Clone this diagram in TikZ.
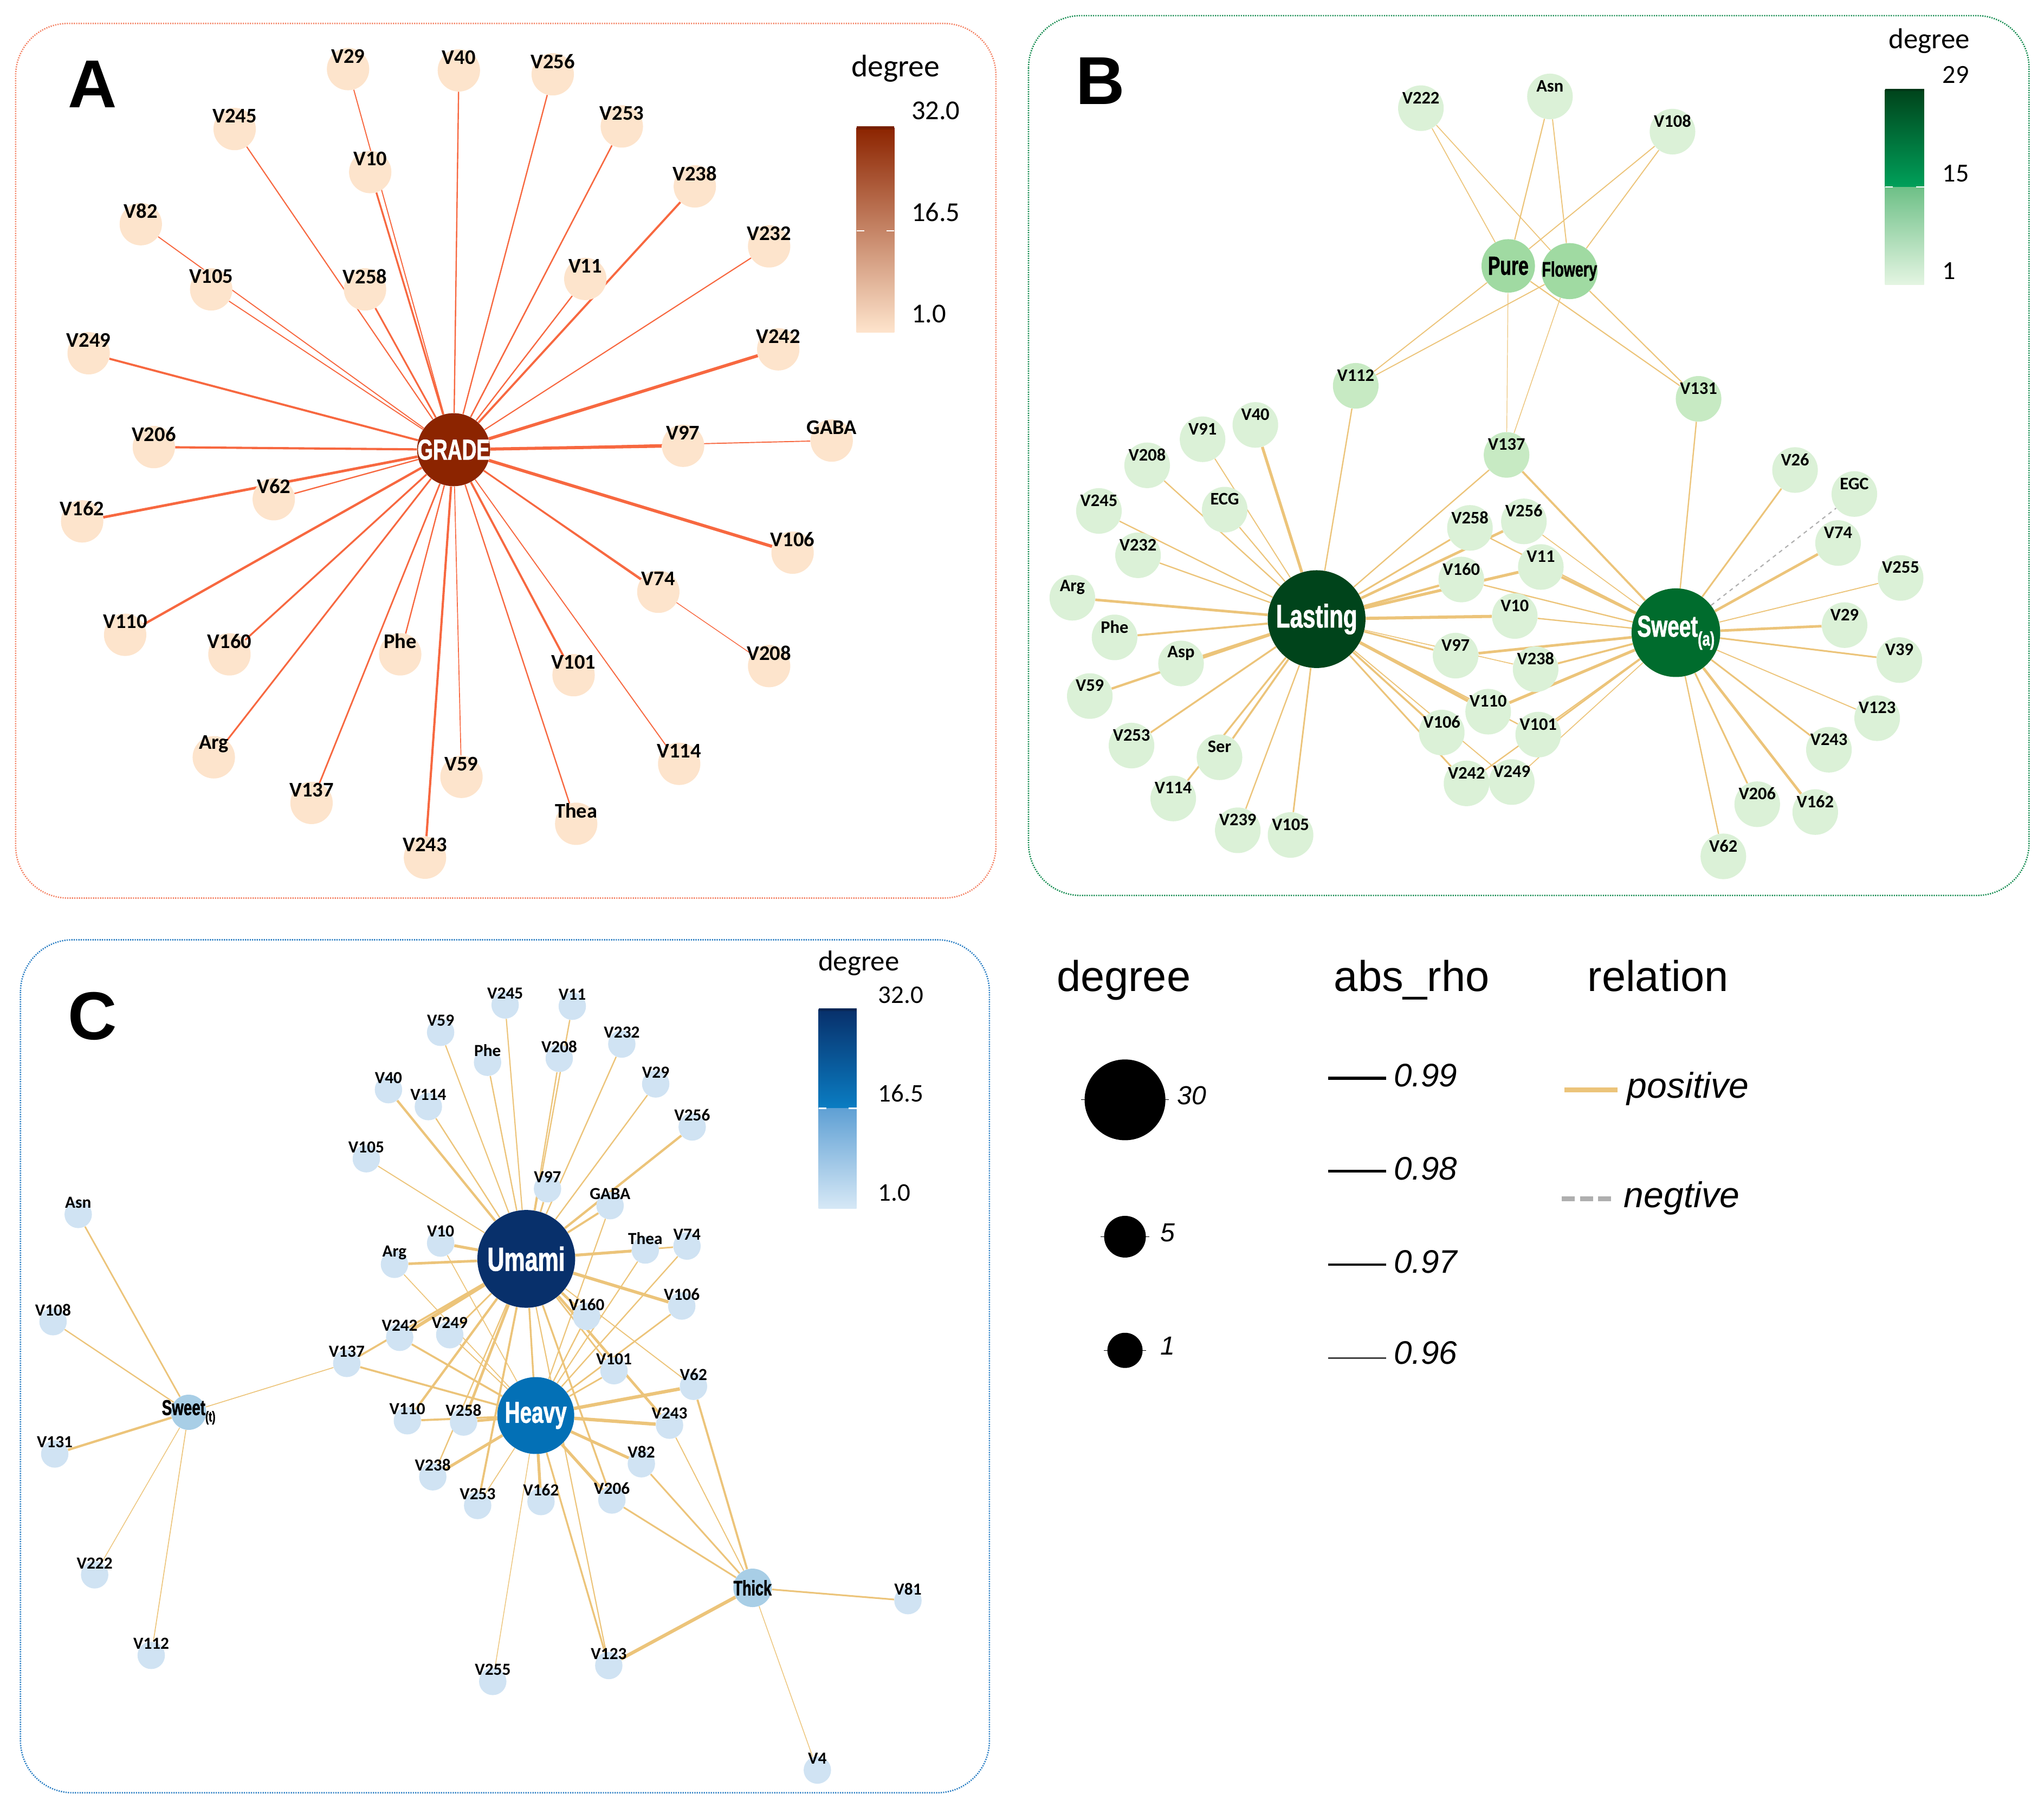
\documentclass[tikz,border=0pt]{standalone}
\usepackage{fontspec}
\setmainfont{Carlito}
\newfontfamily\condf{Liberation Sans}[FakeStretch=0.7,BoldFeatures={FakeBold=1.3}]
\newfontfamily\arialf{Liberation Sans}
\pgfdeclarelayer{edgelayer}
\pgfsetlayers{edgelayer,main}
\definecolor{aedge}{RGB}{247,104,64}
\definecolor{anode}{RGB}{253,228,204}
\definecolor{ahub}{RGB}{140,36,0}
\definecolor{aframe}{RGB}{244,130,100}
\definecolor{pedge}{RGB}{236,196,122}
\definecolor{bnode}{RGB}{219,241,215}
\definecolor{bnodeb}{RGB}{199,234,195}
\definecolor{bmid}{RGB}{160,218,162}
\definecolor{bdark}{RGB}{0,68,27}
\definecolor{bsweet}{RGB}{0,108,45}
\definecolor{bframe}{RGB}{20,140,80}
\definecolor{cnode}{RGB}{208,227,243}
\definecolor{cmid}{RGB}{168,206,230}
\definecolor{cheavy}{RGB}{3,112,182}
\definecolor{cumami}{RGB}{8,48,107}
\definecolor{cframe}{RGB}{40,125,195}
\definecolor{negc}{RGB}{175,175,175}
\tikzset{
  anodest/.style={circle,fill=anode,inner sep=0pt,minimum size=32.5pt},
  alab/.style={font=\bfseries\fontsize{16}{16}\selectfont,yshift=10pt,inner sep=0pt},
  bnodest/.style={circle,fill=bnode,inner sep=0pt,minimum size=35pt},
  blab/.style={font=\bfseries\fontsize{13.5}{13.5}\selectfont,yshift=8pt,inner sep=0pt},
  cnodest/.style={circle,fill=cnode,inner sep=0pt,minimum size=21pt},
  clab/.style={font=\bfseries\fontsize{13}{13}\selectfont,yshift=9pt,inner sep=0pt},
  aedgest/.style={draw=aedge},
  pedgest/.style={draw=pedge},
  negedge/.style={draw=negc,dashed,line width=0.9pt},
  hubw/.style={text=white,font=\condf\bfseries\fontsize{#1}{#1}\selectfont,inner sep=0pt},
  hubk/.style={text=black,font=\condf\bfseries\fontsize{#1}{#1}\selectfont,inner sep=0pt},
  framest/.style={line width=1.1pt,dash pattern=on 0.9pt off 0.9pt,rounded corners=40pt},
  cbtext/.style={font=\fontsize{#1}{#1}\selectfont,anchor=west,inner sep=0pt},
  cbtitle/.style={font=\fontsize{#1}{#1}\selectfont,anchor=base,inner sep=0pt},
  lgtitle/.style={font=\arialf\fontsize{33}{33}\selectfont,anchor=base,inner sep=0pt},
  lgval/.style={font=\arialf\itshape\fontsize{#1}{#1}\selectfont,anchor=base west,inner sep=0pt},
  letterst/.style={font=\arialf\bfseries\fontsize{52}{52}\selectfont,inner sep=0pt},
  lgdot/.style={circle,fill=black,inner sep=0pt,minimum size=#1},
}
\newcommand\An[2]{\node[anodest,label={[alab]center:#1}] (a#1) at (#2) {};}
\newcommand\Bn[2]{\node[bnodest,label={[blab]center:#1}] (b#1) at (#2) {};}
\newcommand\Bnn[2]{\node[bnodest,fill=bnodeb,label={[blab]center:#1}] (b#1) at (#2) {};}
\newcommand\Cn[2]{\node[cnodest,label={[clab]center:#1}] (c#1) at (#2) {};}
\begin{document}
\begin{tikzpicture}[x=1pt,y=-1pt]
\useasboundingbox (0,0) rectangle (1568,1386);
% frames
\draw[framest,draw=aframe] (12,18) rectangle (764,689);
\draw[framest,draw=bframe] (789,12) rectangle (1556.5,687);
\draw[framest,draw=cframe] (15.7,721) rectangle (759,1375.4);
% letters
\node[letterst] (letA) at (71,64.5) {A};
\node[letterst] (letB) at (844,62) {B};
\node[letterst] (letC) at (71,779.6) {C};

% ================= Panel A =================
\node[circle,fill=ahub,inner sep=0pt,minimum size=56pt,label={[hubw=22]center:GRADE}] (aGRADE) at (348,345) {};
\An{V29}{267,53}
\An{V40}{352,54}
\An{V256}{424,57}
\An{V245}{180,99}
\An{V253}{477,97}
\An{V10}{284,132}
\An{V238}{533,143}
\An{V82}{108,172}
\An{V232}{590,189}
\An{V105}{162,222}
\An{V258}{280,222}
\An{V11}{449,214}
\An{V249}{68,271}
\An{V242}{597,268}
\An{V206}{118,343}
\An{V97}{524,342}
\An{GABA}{638,338}
\An{V62}{210,383}
\An{V162}{63,400}
\An{V106}{608,424}
\An{V74}{505,454}
\An{V110}{96,487}
\An{V160}{176,502}
\An{Phe}{307,502}
\An{V101}{440,518}
\An{V208}{590,511}
\An{Arg}{164,581}
\An{V114}{521,586}
\An{V59}{354,596}
\An{V137}{239,616}
\An{Thea}{442,632}
\An{V243}{326,658}
% colorbar A
\shade[top color=ahub,middle color={rgb,255:red,222;green,140;blue,105},bottom color={rgb,255:red,254;green,228;blue,204}] (657,98) rectangle (686,255);
\fill[ahub!85!black] (657,97) rectangle (686,99.5);
\draw[white,line width=1pt] (657,177) -- (663,177) (680,177) -- (686,177);
\node[cbtitle=24] (aDeg) at (687,59) {degree};
\node[cbtext=21] (aT1) at (699,85) {32.0};
\node[cbtext=21] (aT2) at (699,163) {16.5};
\node[cbtext=21] (aT3) at (699,241) {1.0};

% ================= Panel B =================
\node[circle,fill=bdark,inner sep=0pt,minimum size=75pt,label={[hubw=25]center:Lasting}] (bLasting) at (1010,475) {};
\node[circle,fill=bsweet,inner sep=0pt,minimum size=68pt,label={[hubw=23]center:{Sweet\raisebox{-0.3em}{\fontsize{15}{15}\selectfont(a)}}}] (bSweet) at (1285.6,485.4) {};
\node[circle,fill=bmid,inner sep=0pt,minimum size=41pt,label={[hubk=20]center:Pure}] (bPure) at (1157,204) {};
\node[circle,fill=bmid,inner sep=0pt,minimum size=43pt,label={[hubk=16]center:Flowery}] (bFlowery) at (1204,208) {};
\Bn{V222}{1090,83}
\Bn{Asn}{1189,74}
\Bn{V108}{1283,101}
\Bnn{V112}{1040,296}
\Bnn{V131}{1303,306}
\Bn{V40}{963,326}
\Bn{V91}{922.5,337}
\Bnn{V137}{1155.7,349}
\Bn{V208}{880,357}
\Bn{V26}{1377,360.6}
\Bn{EGC}{1422.5,379}
\Bn{V245}{843,392}
\Bn{ECG}{939.5,391}
\Bn{V258}{1127.6,405}
\Bn{V256}{1169,400}
\Bn{V74}{1410,416.6}
\Bn{V232}{873,426}
\Bn{V11}{1182,435}
\Bn{V255}{1458,443.4}
\Bn{V160}{1121,444.6}
\Bn{Arg}{822.6,458.6}
\Bn{V10}{1162,472.6}
\Bn{V29}{1415,479.6}
\Bn{Phe}{855,489}
\Bn{V97}{1116.6,503}
\Bn{V39}{1457,506.4}
\Bn{Asp}{906,509}
\Bn{V238}{1178,513.4}
\Bn{V59}{836,534}
\Bn{V110}{1141.6,546}
\Bn{V123}{1440,551}
\Bn{V106}{1106,562}
\Bn{V101}{1180,563.6}
\Bn{V253}{868,572}
\Bn{V243}{1403,575.2}
\Bn{Ser}{935.5,581}
\Bn{V242}{1125,601}
\Bn{V249}{1159.7,600}
\Bn{V114}{900,612.6}
\Bn{V206}{1348,617}
\Bn{V162}{1392.5,623}
\Bn{V239}{949.5,637}
\Bn{V105}{990,640.6}
\Bn{V62}{1322,657}
% colorbar B
\shade[top color=bdark,bottom color={rgb,255:red,0;green,160;blue,90}] (1446,68.7) rectangle (1476,143.5);
\shade[top color={rgb,255:red,110;green,192;blue,135},bottom color={rgb,255:red,228;green,245;blue,226}] (1446,143.5) rectangle (1476,218.5);
\fill[bdark!80!black] (1446,68) rectangle (1476,70);
\draw[white,line width=1pt] (1446,143.5) -- (1452,143.5) (1470,143.5) -- (1476,143.5);
\node[cbtitle=22] (bDeg) at (1480,37) {degree};
\node[cbtext=20] (bT1) at (1490,57.5) {29};
\node[cbtext=20] (bT2) at (1490,133) {15};
\node[cbtext=20] (bT3) at (1490,208) {1};

% ================= Panel C =================
\node[circle,fill=cumami,inner sep=0pt,minimum size=75pt,label={[hubw=25.5]center:Umami}] (cUmami) at (403.7,965.8) {};
\node[circle,fill=cheavy,inner sep=0pt,minimum size=59pt,label={[hubw=23]center:Heavy}] (cHeavy) at (411,1086) {};
\node[circle,fill=cmid,inner sep=0pt,minimum size=27pt,label={[hubk=16.5]center:{Sweet\raisebox{-0.3em}{\fontsize{11}{11}\selectfont(t)}}}] (cSweet) at (144.7,1083.5) {};
\node[circle,fill=cmid,inner sep=0pt,minimum size=29.5pt,label={[hubk=16]center:Thick}] (cThick) at (577.3,1218.2) {};
\Cn{V245}{387.5,771}
\Cn{V11}{439,772}
\Cn{V59}{338,792}
\Cn{V232}{477,801}
\Cn{Phe}{374,815}
\Cn{V208}{429,812}
\Cn{V29}{503,831.6}
\Cn{V40}{298,836}
\Cn{V114}{328.6,849}
\Cn{V256}{531,864.6}
\Cn{V105}{281,889}
\Cn{V97}{420,912}
\Cn{GABA}{468,925}
\Cn{Asn}{60,931.7}
\Cn{V10}{338,953.7}
\Cn{Arg}{302.6,970}
\Cn{Thea}{495,959}
\Cn{V74}{527,956}
\Cn{V106}{523,1002}
\Cn{V160}{450,1010}
\Cn{V108}{40.7,1014}
\Cn{V242}{306.6,1026}
\Cn{V249}{345,1024}
\Cn{V137}{266,1046}
\Cn{V101}{471,1051.6}
\Cn{V62}{532,1063.6}
\Cn{V110}{312.5,1090}
\Cn{V258}{355.6,1091}
\Cn{V243}{513.6,1093.4}
\Cn{V131}{42,1115.5}
\Cn{V82}{492,1123}
\Cn{V238}{332,1133}
\Cn{V162}{415,1152}
\Cn{V206}{469.4,1150.8}
\Cn{V253}{366.4,1155}
\Cn{V222}{72.6,1208.2}
\Cn{V81}{696.5,1228}
\Cn{V112}{116,1270}
\Cn{V123}{467,1277.8}
\Cn{V255}{378,1290}
\Cn{V4}{627,1358}
% colorbar C
\shade[top color=cumami,bottom color={rgb,255:red,10;green,125;blue,195}] (628,774.4) rectangle (657,850.3);
\shade[top color={rgb,255:red,95;green,160;blue,212},bottom color={rgb,255:red,214;green,232;blue,246}] (628,850.3) rectangle (657,927);
\fill[cumami!80!black] (628,773.6) rectangle (657,775.6);
\draw[white,line width=1pt] (628,850.3) -- (634,850.3) (651,850.3) -- (657,850.3);
\node[cbtitle=22] (cDeg) at (658.8,744.7) {degree};
\node[cbtext=19.5] (cT1) at (673.5,763.4) {32.0};
\node[cbtext=19.5] (cT2) at (673.5,839) {16.5};
\node[cbtext=19.5] (cT3) at (673.5,915) {1.0};

% ================= Legend =================
\node[lgtitle] (lgDeg) at (862,760.3) {degree};
\node[lgtitle] (lgRho) at (1083,760.3) {abs\_rho};
\node[lgtitle] (lgRel) at (1272,760.3) {relation};
\node[lgdot=62pt] (lc30) at (863,843.8) {};
\node[lgdot=32pt] (lc5) at (863,948.8) {};
\node[lgdot=27pt] (lc1) at (863,1036) {};
\draw[line width=0.5pt] ([xshift=-2.5pt]lc30.west) -- ([xshift=2.5pt]lc30.east);
\draw[line width=0.5pt] ([xshift=-2.5pt]lc5.west) -- ([xshift=2.5pt]lc5.east);
\draw[line width=0.5pt] ([xshift=-2.5pt]lc1.west) -- ([xshift=2.5pt]lc1.east);
\node[lgval=20] (lt30) at (903,847.4) {30};
\node[lgval=20] (lt5) at (890,952.4) {5};
\node[lgval=20] (lt1) at (890,1039.5) {1};
\coordinate (r99a) at (1019,827.1); \coordinate (r99b) at (1063.4,827.1);
\coordinate (r98a) at (1019,898.7); \coordinate (r98b) at (1063.4,898.7);
\coordinate (r97a) at (1019,970.3); \coordinate (r97b) at (1063.4,970.3);
\coordinate (r96a) at (1019,1041.9); \coordinate (r96b) at (1063.4,1041.9);
\draw[line width=2.6pt] (r99a) -- (r99b);
\draw[line width=2.1pt] (r98a) -- (r98b);
\draw[line width=1.7pt] (r97a) -- (r97b);
\draw[line width=1.1pt,black!75] (r96a) -- (r96b);
\node[lgval=25] (lv99) at (1069,833.6) {0.99};
\node[lgval=25] (lv98) at (1069,905.2) {0.98};
\node[lgval=25] (lv97) at (1069,976.7) {0.97};
\node[lgval=25] (lv96) at (1069,1046.7) {0.96};
\coordinate (rpa) at (1200,836.2); \coordinate (rpb) at (1240.8,836.2);
\coordinate (rna) at (1198,919.7); \coordinate (rnb) at (1239,919.7);
\draw[pedge,line width=3.5pt] (rpa) -- (rpb);
\draw[negc,line width=3.5pt,dash pattern=on 10pt off 4pt] (rna) -- (rnb);
\node[lgval=27.5] (lpos) at (1248,842.6) {positive};
\node[lgval=27.5] (lneg) at (1245.6,926.2) {negtive};

% ================= Edges =================
\begin{pgfonlayer}{edgelayer}
\foreach \n/\w in {V29/0.8,V40/1.0,V256/1.0,V245/0.9,V253/1.1,V10/1.4,V238/1.6,V82/0.8,V232/0.9,V105/0.8,V258/1.3,V11/1.0,V249/1.6,V242/2.4,V206/1.7,V97/2.4,GABA/0.8,V62/1.0,V162/2.0,V106/2.4,V74/1.3,V110/1.8,V160/1.4,Phe/1.0,V101/1.6,V208/0.6,Arg/1.3,V114/0.8,V59/0.7,V137/1.2,Thea/1.0,V243/1.7}
  {\draw[aedgest,line width=\w pt] (aGRADE) -- (a\n);}
\foreach \n/\w in {V222/0.7,Asn/0.9,V108/0.8,V112/0.8,V131/0.9,V137/0.5}
  {\draw[pedgest,line width=\w pt] (bPure) -- (b\n);}
\foreach \n/\w in {V222/0.7,Asn/0.8,V108/0.8,V112/0.8,V131/0.9,V137/0.6}
  {\draw[pedgest,line width=\w pt] (bFlowery) -- (b\n);}
\foreach \n/\w in {V112/1.0,V40/2.2,V91/0.8,V208/1.0,ECG/0.9,V245/1.0,V232/1.0,Arg/2.0,Phe/1.6,Asp/2.4,V59/1.8,V253/1.4,Ser/1.5,V114/1.4,V239/1.0,V105/1.2,V137/1.0,V258/1.3,V256/2.0,V160/1.8,V11/2.2,V10/2.4,V97/1.4,V238/0.7,V110/2.4,V106/1.5,V242/1.3,V249/0.8,V101/1.0}
  {\draw[pedgest,line width=\w pt] (bLasting) -- (b\n);}
\foreach \n/\w in {V131/1.0,V137/1.6,V26/1.3,V74/2.0,V255/0.8,V29/2.0,V39/1.3,V123/0.8,V243/1.3,V206/1.3,V162/2.0,V62/1.0,V256/0.7,V11/2.0,V258/1.0,V160/1.0,V10/1.0,V97/2.0,V238/1.5,V110/2.2,V101/1.3,V249/0.7,V242/1.0}
  {\draw[pedgest,line width=\w pt] (bSweet) -- (b\n);}
\draw[negedge] (bSweet) -- (bEGC);
\foreach \n/\w in {V245/0.9,V11/1.0,V59/0.9,Phe/1.0,V208/1.0,V232/1.0,V29/1.0,V256/1.8,V40/1.8,V114/1.0,V105/0.8,V97/1.3,GABA/1.6,V10/2.2,Arg/2.0,Thea/2.2,V74/1.2,V106/2.4,V160/2.0,V62/0.8,V101/1.2,V243/2.0,V242/2.6,V137/1.5,V249/1.2,V110/1.8,V258/2.0,V238/1.0,V253/1.6,V162/1.4,V206/1.4,V123/0.9}
  {\draw[pedgest,line width=\w pt] (cUmami) -- (c\n);}
\foreach \n/\w in {V137/1.5,V242/1.5,V249/0.8,V110/1.6,V258/2.0,V238/2.2,V253/0.7,V162/2.2,V206/2.2,V82/2.2,V243/2.6,V62/2.6,V101/1.2,V160/1.0,V106/1.2,V74/1.0,Thea/0.9,GABA/0.9,V10/0.7,Arg/0.7,V123/1.4,V255/0.6}
  {\draw[pedgest,line width=\w pt] (cHeavy) -- (c\n);}
\foreach \n/\w in {V206/1.3,V82/1.3,V243/0.8,V62/1.6,V123/2.6,V81/1.3,V4/0.6}
  {\draw[pedgest,line width=\w pt] (cThick) -- (c\n);}
\foreach \n/\w in {Asn/1.2,V108/1.0,V131/1.8,V222/0.6,V112/0.7,V137/0.7}
  {\draw[pedgest,line width=\w pt] (cSweet) -- (c\n);}
\end{pgfonlayer}
\end{tikzpicture}
\end{document}
